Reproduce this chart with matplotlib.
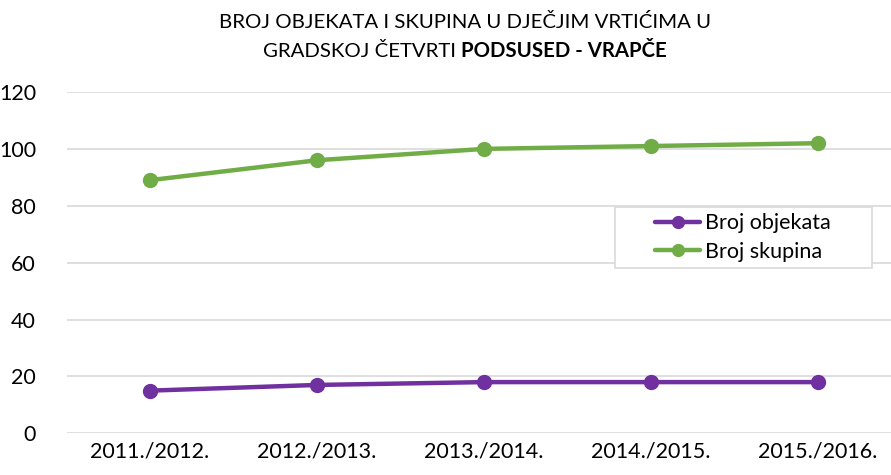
import matplotlib.pyplot as plt
from matplotlib.patches import Rectangle

plt.rcParams['font.family'] = ['Lato', 'DejaVu Sans']

years = ['2011./2012.', '2012./2013.', '2013./2014.', '2014./2015.', '2015./2016.']
objekti = [15, 17, 18, 18, 18]
skupine = [89, 96, 100, 101, 102]

purple = '#7030A0'
green = '#70AD47'
grid_c = '#D9D9D9'

W, H = 891, 475
fig = plt.figure(figsize=(W / 100, H / 100), dpi=100)
# plot area runs slightly past the right edge, like the original crop
ax = fig.add_axes([66.5 / W, (H - 433.3) / H, 835 / W, 341.3 / H])

x = range(len(years))
ax.plot(x, objekti, '-o', color=purple, lw=3.2, ms=10, label='Broj objekata',
        solid_capstyle='round')
ax.plot(x, skupine, '-o', color=green, lw=3.2, ms=10, label='Broj skupina',
        solid_capstyle='round')

ax.set_xlim(-0.5, len(years) - 0.5)
ax.set_ylim(0, 120)
ax.set_yticks(range(0, 121, 20))
ax.set_xticks(list(x))
ax.set_xticklabels(years)
ax.grid(axis='y', color=grid_c, lw=1.2)
ax.set_axisbelow(True)
for s in ax.spines.values():
    s.set_visible(False)
ax.tick_params(length=0, labelsize=15.5, colors='black', pad=6)
ax.tick_params(axis='y', pad=22)

# legend box drawn separately so it can be wider than its entries
box = Rectangle((614.7 / W, (H - 268) / H), 257 / W, 61.3 / H,
                transform=fig.transFigure, facecolor='white',
                edgecolor=grid_c, lw=1.2, zorder=5, clip_on=False)
ax.add_artist(box)
leg = ax.legend(loc='center left', bbox_to_anchor=(655 / W, (H - 237.5) / H),
                bbox_transform=fig.transFigure, fontsize=15.5, frameon=False,
                handlelength=2.1, handletextpad=0.2, labelspacing=0.38,
                borderpad=0, borderaxespad=0, markerscale=0.85)
leg.set_zorder(6)

# title, second line partly bold
fs = 14.7
cx = 465 / W
fig.text(cx, 1 - 22 / H, 'BROJ OBJEKATA I SKUPINA U DJEČJIM VRTIĆIMA U',
         ha='center', va='center', fontsize=fs)
t1 = fig.text(0, 1 - 51 / H, 'GRADSKOJ ČETVRTI ', ha='left', va='center', fontsize=fs)
t2 = fig.text(0, 1 - 51 / H, 'PODSUSED - VRAPČE', ha='left', va='center',
              fontsize=fs, fontweight='bold')
r = fig.canvas.get_renderer()
w1 = t1.get_window_extent(r).width / W
w2 = t2.get_window_extent(r).width / W
start = cx - (w1 + w2) / 2
t1.set_x(start)
t2.set_x(start + w1)

fig.savefig('out.png', dpi=100)
